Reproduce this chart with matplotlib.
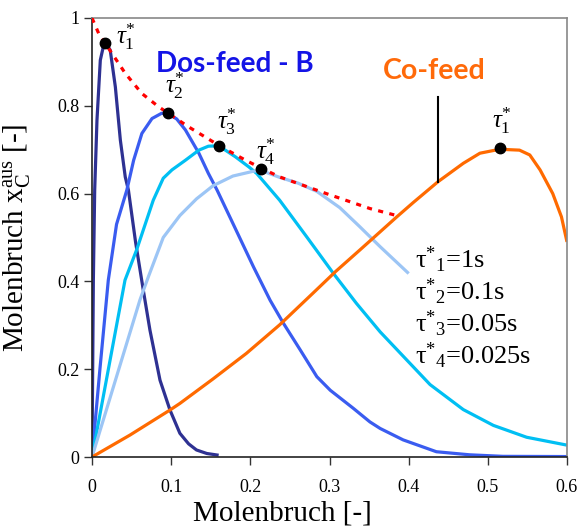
import matplotlib
matplotlib.use("Agg")
import matplotlib.pyplot as plt

plt.rcParams['mathtext.fontset'] = 'custom'
plt.rcParams['mathtext.rm'] = 'Liberation Serif'
plt.rcParams['mathtext.it'] = 'Liberation Serif:italic'
plt.rcParams['mathtext.bf'] = 'Liberation Serif:bold'
plt.rcParams['font.family'] = ['Liberation Serif', 'DejaVu Serif']

# ---- data ----
tau1_x = [0, 0.0017, 0.0034, 0.0063, 0.0105, 0.0147, 0.0177, 0.023, 0.0295,
          0.0358, 0.042, 0.046, 0.055, 0.0648, 0.0732, 0.0859, 0.0985, 0.111,
          0.122, 0.132, 0.145, 0.160]
tau1_y = [0, 0.40, 0.608, 0.768, 0.904, 0.938, 0.942, 0.927, 0.843,
          0.722, 0.638, 0.608, 0.49, 0.38, 0.289, 0.175, 0.107, 0.054,
          0.030, 0.016, 0.008, 0.004]

tau2_x = [0, 0.010, 0.0206, 0.031, 0.044, 0.0526, 0.063, 0.0758, 0.088, 0.096,
          0.107, 0.118, 0.135, 0.147, 0.158, 0.178, 0.204, 0.225, 0.242, 0.263,
          0.284, 0.301, 0.33, 0.351, 0.364, 0.393, 0.435, 0.477, 0.519, 0.6]
tau2_y = [0, 0.20, 0.403, 0.53, 0.608, 0.676, 0.737, 0.771, 0.783, 0.782,
          0.770, 0.745, 0.692, 0.646, 0.608, 0.532, 0.433, 0.357, 0.304, 0.244,
          0.183, 0.152, 0.111, 0.080, 0.065, 0.039, 0.012, 0.005, 0.0015, 0.001]

tau3_x = [0, 0.0417, 0.0564, 0.0774, 0.090, 0.101, 0.118, 0.135, 0.147, 0.16,
          0.181, 0.198, 0.208, 0.237, 0.271, 0.305, 0.334, 0.364, 0.385, 0.427,
          0.469, 0.507, 0.549, 0.6]
tau3_y = [0, 0.403, 0.472, 0.585, 0.635, 0.654, 0.676, 0.699, 0.708, 0.709,
          0.684, 0.661, 0.646, 0.585, 0.502, 0.418, 0.350, 0.285, 0.245, 0.165,
          0.108, 0.072, 0.045, 0.027]

tau4_x = [0, 0.0606, 0.0711, 0.090, 0.111, 0.132, 0.153, 0.178, 0.204, 0.213,
          0.237, 0.26, 0.284, 0.313, 0.338, 0.364, 0.40]
tau4_y = [0, 0.358, 0.41, 0.50, 0.550, 0.588, 0.618, 0.640, 0.651, 0.653,
          0.637, 0.624, 0.605, 0.568, 0.525, 0.479, 0.418]

cofeed_x = [0, 0.048, 0.0985, 0.111, 0.153, 0.195, 0.237, 0.279, 0.308, 0.338,
            0.364, 0.385, 0.406, 0.437, 0.469, 0.49, 0.515, 0.54, 0.553, 0.566,
            0.582, 0.593, 0.6]
cofeed_y = [0, 0.050, 0.107, 0.122, 0.178, 0.236, 0.301, 0.373, 0.423, 0.471,
            0.513, 0.547, 0.580, 0.627, 0.669, 0.692, 0.701, 0.699, 0.688, 0.654,
            0.60, 0.547, 0.49]

envelope_x = [0, 0.0084, 0.0164, 0.025, 0.042, 0.063, 0.084, 0.0955, 0.122,
              0.161, 0.194, 0.215, 0.237, 0.296, 0.351, 0.387]
envelope_y = [1.0, 0.965, 0.943, 0.92, 0.874, 0.828, 0.798, 0.784, 0.752,
              0.709, 0.676, 0.657, 0.638, 0.60, 0.566, 0.549]

opt_x = [0.0164, 0.0955, 0.161, 0.213, 0.515]
opt_y = [0.942, 0.784, 0.709, 0.656, 0.705]
opt_labels = [r'$\tau_{1}^{*}$', r'$\tau_{2}^{*}$', r'$\tau_{3}^{*}$',
              r'$\tau_{4}^{*}$', r'$\tau_{1}^{*}$']
opt_label_xy = [(0.030, 0.941), (0.092, 0.829), (0.158, 0.747),
                (0.207, 0.679), (0.505, 0.749)]

vline_x = 0.437
vline_y = (0.627, 0.82)

legend_lines = ['τ$^{*}{}_{1}$=1s', 'τ$^{*}{}_{2}$=0.1s',
                'τ$^{*}{}_{3}$=0.05s', 'τ$^{*}{}_{4}$=0.025s']

xticks = [0, 0.1, 0.2, 0.3, 0.4, 0.5, 0.6]
xticklabels = ['0', '0.1', '0.2', '0.3', '0.4', '0.5', '0.6']
yticks = [0, 0.2, 0.4, 0.6, 0.8, 1.0]
yticklabels = ['0', '0.2', '0.4', '0.6', '0.8', '1']

# ---- figure ----
fig = plt.figure(figsize=(5.79, 5.32), dpi=100)
ax = fig.add_axes([92/579, 1 - 457/532, 475/579, 439/532])

lw = 2.3
kw = dict(lw=lw, solid_joinstyle='round', solid_capstyle='butt')
ax.plot(tau1_x, tau1_y, color='#2e3192', **kw)
ax.plot(tau2_x, tau2_y, color='#3a5cf0', **kw)
ax.plot(tau3_x, tau3_y, color='#00bff3', **kw)
ax.plot(tau4_x, tau4_y, color='#9cc5f5', **kw)
ax.plot(cofeed_x, cofeed_y, color='#ff6a00', **kw)
ax.plot(envelope_x, envelope_y, color='#ff0000', lw=2.3, dashes=(1.6, 2.0), zorder=4)
ax.plot([vline_x, vline_x], vline_y, color='black', lw=1.5)
ax.plot(opt_x, opt_y, 'o', color='black', ms=7.5, zorder=5)

for lab, (lx, ly) in zip(opt_labels, opt_label_xy):
    ax.text(lx, ly, lab, fontsize=18, ha='left', va='baseline', zorder=6)

for i, t in enumerate(legend_lines):
    ax.text(0.408, 0.43 - i * 0.073, t, fontsize=19, ha='left', va='baseline')

ax.text(0.081, 0.877, 'Dos-feed - B', fontsize=20, fontweight='bold',
        family='Lato', color='#1414e6', ha='left', va='baseline', zorder=7)
ax.text(0.368, 0.862, 'Co-feed', fontsize=20.5, fontweight='bold',
        family='Lato', color='#ff6a0a', ha='left', va='baseline')

ax.set_xlim(0, 0.6)
ax.set_ylim(0, 1)
ax.set_xticks(xticks)
ax.set_xticklabels(xticklabels)
ax.set_yticks(yticks)
ax.set_yticklabels(yticklabels)
ax.tick_params(direction='out', length=6, width=1, labelsize=13, pad=3,
               color='#333333')
ax.tick_params(axis='x', pad=10)

for s in ['left', 'bottom']:
    ax.spines[s].set_color('#222222')
    ax.spines[s].set_linewidth(1.2)
for s in ['top', 'right']:
    ax.spines[s].set_color('#888888')
    ax.spines[s].set_linewidth(1.2)

ax.set_xlabel('Molenbruch [-]', fontsize=21)
ax.xaxis.set_label_coords(0.40, -0.10)
ax.set_ylabel(r'Molenbruch x$_{\mathrm{C}}^{\mathrm{aus}}$ [-]', fontsize=21)
ax.yaxis.set_label_coords(-0.126, 0.5)

fig.savefig('out.png', dpi=100)
